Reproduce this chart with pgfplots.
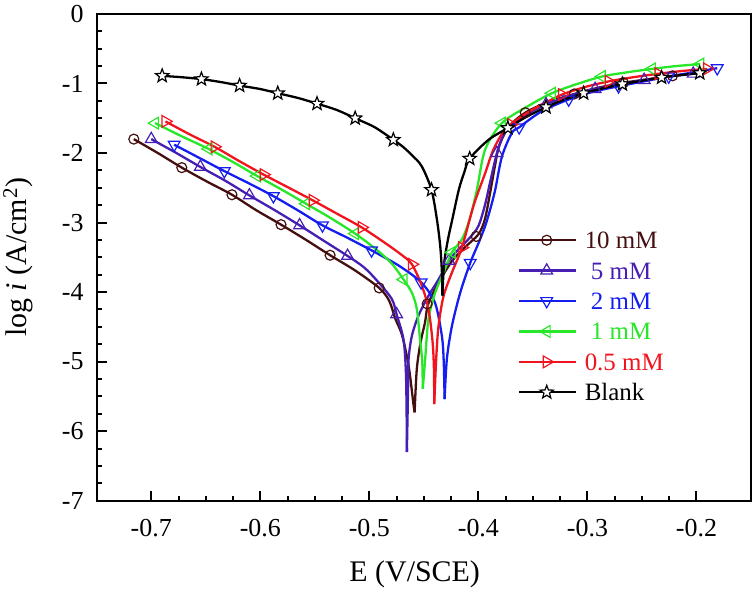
\documentclass[border=0pt]{standalone}
\usepackage{pgfplots}
\pgfplotsset{compat=1.18}
\usepackage{fontspec}
\setmainfont{Liberation Serif}
\definecolor{cten}{RGB}{70,15,15}
\definecolor{cfive}{RGB}{70,30,180}
\definecolor{ctwo}{RGB}{20,30,240}
\definecolor{cone}{RGB}{40,230,40}
\definecolor{chalf}{RGB}{240,20,30}
\newcommand{\fstick}{\fontsize{26bp}{30bp}\selectfont}
\newcommand{\fslab}{\fontsize{30bp}{34bp}\selectfont}
\newcommand{\fsleg}{\fontsize{25bp}{29bp}\selectfont}
\pgfdeclareplotmark{ostar}{%
  \pgfpathmoveto{\pgfpointpolar{90}{\pgfplotmarksize}}%
  \pgfpathlineto{\pgfpointpolar{126}{0.42\pgfplotmarksize}}%
  \pgfpathlineto{\pgfpointpolar{162}{\pgfplotmarksize}}%
  \pgfpathlineto{\pgfpointpolar{198}{0.42\pgfplotmarksize}}%
  \pgfpathlineto{\pgfpointpolar{234}{\pgfplotmarksize}}%
  \pgfpathlineto{\pgfpointpolar{270}{0.42\pgfplotmarksize}}%
  \pgfpathlineto{\pgfpointpolar{306}{\pgfplotmarksize}}%
  \pgfpathlineto{\pgfpointpolar{342}{0.42\pgfplotmarksize}}%
  \pgfpathlineto{\pgfpointpolar{18}{\pgfplotmarksize}}%
  \pgfpathlineto{\pgfpointpolar{54}{0.42\pgfplotmarksize}}%
  \pgfpathclose
  \pgfusepathqfillstroke}
\begin{document}
\begin{tikzpicture}
\begin{axis}[
  scale only axis, width=656bp, height=488bp,
  xmin=-0.75, xmax=-0.15, ymin=-7, ymax=0,
  axis line style={line width=2bp},
  tick style={line width=2bp, black},
  major tick length=10bp, minor tick length=5bp,
  tick pos=left, tick align=inside,
  xtick={-0.7,-0.6,-0.5,-0.4,-0.3,-0.2},
  xticklabels={-0.7,-0.6,-0.5,-0.4,-0.3,-0.2},
  minor x tick num=3,
  ytick={-7,-6,-5,-4,-3,-2,-1,0},
  yticklabels={-7,-6,-5,-4,-3,-2,-1,0},
  minor y tick num=3,
  xticklabel style={font=\fstick, inner sep=0pt, yshift=-18bp},
  yticklabel style={font=\fstick, inner sep=0pt, xshift=-13bp},
  xlabel={E (V/SCE)},
  ylabel={log \textit{i} (A/cm\textsuperscript{2})},
  xlabel style={font=\fslab, at={(axis description cs:0.486,0)}, anchor=center, yshift=-74bp},
  ylabel style={font=\fslab, at={(axis description cs:0,0.5)}, anchor=center, yshift=79bp},
  legend style={draw=none, fill=none, font=\fsleg, at={(rel axis cs:0.643,0.553)}, anchor=north west, inner sep=0pt, row sep=13.5bp, cells={anchor=west}, nodes={inner sep=0pt, text height=17bp, text depth=0bp}, /tikz/every odd column/.style={column sep=8bp}},
  legend cell align=left,
  legend image code/.code={\draw[mark repeat=2,mark phase=2] plot coordinates {(0bp,0bp) (28bp,0bp) (57bp,0bp)};},
  every axis plot/.append style={line width=2.3bp},
]
% ---------- 10 mM ----------
\addplot[cten, smooth, forget plot] coordinates {
(-0.716,-1.80) (-0.694,-2.00) (-0.672,-2.21) (-0.649,-2.41) (-0.626,-2.60) (-0.604,-2.82) (-0.581,-3.03) (-0.558,-3.25) (-0.536,-3.47) (-0.513,-3.69) (-0.491,-3.94) (-0.482,-4.12) (-0.476,-4.39) (-0.470,-4.62) (-0.464,-5.06) (-0.4595,-5.62) (-0.4585,-5.73)};
\addplot[cten, smooth, forget plot] coordinates {
(-0.4585,-5.73) (-0.4565,-5.11) (-0.453,-4.72) (-0.449,-4.44) (-0.446,-4.17) (-0.436,-3.85) (-0.424,-3.55) (-0.412,-3.35) (-0.400,-3.17) (-0.394,-2.95) (-0.389,-2.55) (-0.385,-2.2) (-0.381,-1.90) (-0.372,-1.62) (-0.357,-1.42) (-0.338,-1.28) (-0.312,-1.15) (-0.290,-1.06) (-0.267,-0.99) (-0.245,-0.94) (-0.222,-0.89) (-0.200,-0.85)};
\addplot[cten, only marks, mark=o, mark size=5bp, mark options={fill=white, line width=1.2bp}, forget plot] coordinates {
(-0.716,-1.80) (-0.672,-2.21) (-0.626,-2.60) (-0.581,-3.03) (-0.536,-3.47) (-0.491,-3.94) (-0.447,-4.17) (-0.402,-3.20) (-0.357,-1.42) (-0.312,-1.15) (-0.267,-0.99) (-0.222,-0.89)};
% ---------- 5 mM ----------
\addplot[cfive, smooth, forget plot] coordinates {
(-0.700,-1.80) (-0.677,-2.00) (-0.655,-2.20) (-0.632,-2.40) (-0.610,-2.61) (-0.587,-2.82) (-0.564,-3.04) (-0.542,-3.26) (-0.520,-3.48) (-0.5045,-3.65) (-0.4916,-3.86) (-0.4794,-4.10) (-0.475,-4.32) (-0.4687,-4.68) (-0.4665,-5.15) (-0.4658,-5.8) (-0.4656,-6.3)};
\addplot[cfive, smooth, forget plot] coordinates {
(-0.4656,-6.3) (-0.4645,-5.4) (-0.464,-4.96) (-0.461,-4.63) (-0.455,-4.34) (-0.446,-4.06) (-0.4366,-3.82) (-0.427,-3.55) (-0.418,-3.38) (-0.408,-3.22) (-0.400,-3.05) (-0.394,-2.75) (-0.389,-2.40) (-0.383,-2.00) (-0.377,-1.74) (-0.368,-1.58) (-0.353,-1.42) (-0.338,-1.30) (-0.315,-1.17) (-0.293,-1.08) (-0.270,-1.01) (-0.248,-0.95) (-0.225,-0.90) (-0.203,-0.86) (-0.198,-0.85)};
\addplot[cfive, only marks, mark=triangle, mark size=6.8bp, mark options={fill=white, line width=1.2bp}, forget plot] coordinates {
(-0.700,-1.80) (-0.655,-2.20) (-0.610,-2.61) (-0.564,-3.04) (-0.520,-3.48) (-0.475,-4.32) (-0.427,-3.55) (-0.383,-2.00) (-0.338,-1.30) (-0.293,-1.08) (-0.248,-0.95) (-0.203,-0.86)};
% ---------- 2 mM ----------
\addplot[ctwo, smooth, forget plot] coordinates {
(-0.679,-1.88) (-0.656,-2.07) (-0.633,-2.26) (-0.610,-2.44) (-0.588,-2.62) (-0.565,-2.83) (-0.543,-3.04) (-0.520,-3.22) (-0.498,-3.40) (-0.484,-3.52) (-0.470,-3.65) (-0.4525,-3.86) (-0.4399,-4.15) (-0.4335,-4.63) (-0.4318,-5.0) (-0.431,-5.54)};
\addplot[ctwo, smooth, forget plot] coordinates {
(-0.431,-5.54) (-0.4289,-4.96) (-0.4243,-4.49) (-0.4167,-4.01) (-0.4075,-3.58) (-0.400,-3.30) (-0.3938,-3.05) (-0.389,-2.80) (-0.3846,-2.53) (-0.3784,-2.05) (-0.3693,-1.71) (-0.3626,-1.63) (-0.342,-1.40) (-0.3172,-1.23) (-0.295,-1.12) (-0.2715,-1.04) (-0.2485,-0.97) (-0.2255,-0.90) (-0.203,-0.84) (-0.181,-0.78)};
\addplot[ctwo, only marks, mark=triangle, mark size=6.8bp, mark options={fill=white, line width=1.2bp, rotate=180}, forget plot] coordinates {
(-0.679,-1.88) (-0.633,-2.26) (-0.588,-2.62) (-0.543,-3.04) (-0.498,-3.40) (-0.4525,-3.86) (-0.4075,-3.58) (-0.3626,-1.63) (-0.3172,-1.23) (-0.2715,-1.04) (-0.2255,-0.90) (-0.181,-0.78)};
% ---------- 1 mM ----------
\addplot[cone, smooth, forget plot] coordinates {
(-0.6965,-1.57) (-0.672,-1.76) (-0.6475,-1.94) (-0.625,-2.13) (-0.603,-2.33) (-0.580,-2.53) (-0.558,-2.73) (-0.535,-2.94) (-0.513,-3.16) (-0.495,-3.37) (-0.480,-3.58) (-0.4686,-3.82) (-0.461,-4.01) (-0.4564,-4.25) (-0.4533,-4.72) (-0.4515,-5.0) (-0.451,-5.39)};
\addplot[cone, smooth, forget plot] coordinates {
(-0.451,-5.39) (-0.4488,-4.96) (-0.4458,-4.39) (-0.4397,-4.01) (-0.432,-3.72) (-0.4243,-3.43) (-0.415,-3.24) (-0.408,-2.95) (-0.4014,-2.53) (-0.3938,-1.95) (-0.3784,-1.57) (-0.355,-1.33) (-0.3326,-1.14) (-0.310,-1.01) (-0.2867,-0.90) (-0.264,-0.84) (-0.2408,-0.79) (-0.219,-0.75) (-0.1965,-0.72)};
\addplot[cone, only marks, mark=triangle, mark size=6.8bp, mark options={fill=white, line width=1.2bp, rotate=90}, forget plot] coordinates {
(-0.6965,-1.57) (-0.6475,-1.94) (-0.603,-2.33) (-0.558,-2.73) (-0.513,-3.16) (-0.4686,-3.82) (-0.4243,-3.43) (-0.3784,-1.57) (-0.3326,-1.14) (-0.2867,-0.90) (-0.2408,-0.79) (-0.1965,-0.72)};
% ---------- 0.5 mM ----------
\addplot[chalf, smooth, forget plot] coordinates {
(-0.687,-1.545) (-0.665,-1.73) (-0.642,-1.91) (-0.620,-2.11) (-0.597,-2.31) (-0.575,-2.49) (-0.552,-2.68) (-0.530,-2.87) (-0.507,-3.07) (-0.485,-3.30) (-0.470,-3.47) (-0.461,-3.60) (-0.4518,-3.91) (-0.4457,-4.25) (-0.442,-4.72) (-0.4408,-5.1) (-0.4405,-5.61)};
\addplot[chalf, smooth, forget plot] coordinates {
(-0.4405,-5.61) (-0.4387,-4.96) (-0.4366,-4.49) (-0.432,-4.06) (-0.4243,-3.72) (-0.4151,-3.36) (-0.4045,-2.76) (-0.3938,-2.29) (-0.3862,-1.95) (-0.3754,-1.66) (-0.360,-1.47) (-0.345,-1.33) (-0.3234,-1.16) (-0.302,-1.05) (-0.2806,-0.97) (-0.258,-0.91) (-0.235,-0.86) (-0.213,-0.82) (-0.1904,-0.79)};
\addplot[chalf, only marks, mark=triangle, mark size=6.8bp, mark options={fill=white, line width=1.2bp, rotate=-90}, forget plot] coordinates {
(-0.687,-1.545) (-0.642,-1.91) (-0.597,-2.31) (-0.552,-2.68) (-0.507,-3.07) (-0.461,-3.60) (-0.4151,-3.36) (-0.370,-1.59) (-0.3234,-1.16) (-0.2806,-0.97) (-0.235,-0.86) (-0.1904,-0.79)};
% ---------- Blank ----------
\addplot[black, smooth, forget plot] coordinates {
(-0.690,-0.89) (-0.672,-0.91) (-0.654,-0.937) (-0.636,-0.98) (-0.619,-1.03) (-0.600,-1.08) (-0.584,-1.14) (-0.565,-1.21) (-0.548,-1.29) (-0.530,-1.38) (-0.513,-1.50) (-0.495,-1.63) (-0.478,-1.81) (-0.470,-1.90) (-0.461,-2.03) (-0.452,-2.19) (-0.443,-2.53) (-0.438,-2.96) (-0.435,-3.34) (-0.4335,-3.7) (-0.433,-4.05)};
\addplot[black, smooth, forget plot] coordinates {
(-0.433,-4.05) (-0.4315,-3.6) (-0.428,-3.25) (-0.424,-2.96) (-0.418,-2.53) (-0.413,-2.28) (-0.408,-2.08) (-0.3907,-1.81) (-0.373,-1.64) (-0.356,-1.48) (-0.338,-1.34) (-0.321,-1.23) (-0.3035,-1.14) (-0.286,-1.07) (-0.268,-1.01) (-0.250,-0.96) (-0.232,-0.914) (-0.215,-0.88) (-0.197,-0.85)};
\addplot[black, only marks, mark=ostar, mark size=7bp, mark options={fill=white, line width=1.2bp}, forget plot] coordinates {
(-0.690,-0.89) (-0.654,-0.937) (-0.619,-1.03) (-0.584,-1.14) (-0.548,-1.29) (-0.513,-1.50) (-0.478,-1.81) (-0.443,-2.53) (-0.408,-2.08) (-0.373,-1.64) (-0.338,-1.34) (-0.3035,-1.14) (-0.268,-1.01) (-0.232,-0.914) (-0.197,-0.85)};
% ---------- legend ----------
\addlegendimage{cten, line width=2.3bp, mark=o, mark size=5bp, mark options={fill=white, line width=1.2bp}}
\addlegendentry{\textcolor{cten}{10 mM}}
\addlegendimage{cfive, line width=2.3bp, mark=triangle, mark size=6.8bp, mark options={fill=white, line width=1.2bp}}
\addlegendentry{\textcolor{cfive}{\ 5 mM}}
\addlegendimage{ctwo, line width=2.3bp, mark=triangle, mark size=6.8bp, mark options={fill=white, line width=1.2bp, rotate=180}}
\addlegendentry{\textcolor{ctwo}{\ 2 mM}}
\addlegendimage{cone, line width=2.3bp, mark=triangle, mark size=6.8bp, mark options={fill=white, line width=1.2bp, rotate=90}}
\addlegendentry{\textcolor{cone}{\ 1 mM}}
\addlegendimage{chalf, line width=2.3bp, mark=triangle, mark size=6.8bp, mark options={fill=white, line width=1.2bp, rotate=-90}}
\addlegendentry{\textcolor{chalf}{0.5 mM}}
\addlegendimage{black, line width=2.3bp, mark=ostar, mark size=7bp, mark options={fill=white, line width=1.2bp}}
\addlegendentry{Blank}
\end{axis}
\path (current axis.south west) ++(-95bp,-92bp) rectangle ++(756bp,594bp);
\end{tikzpicture}
\end{document}
